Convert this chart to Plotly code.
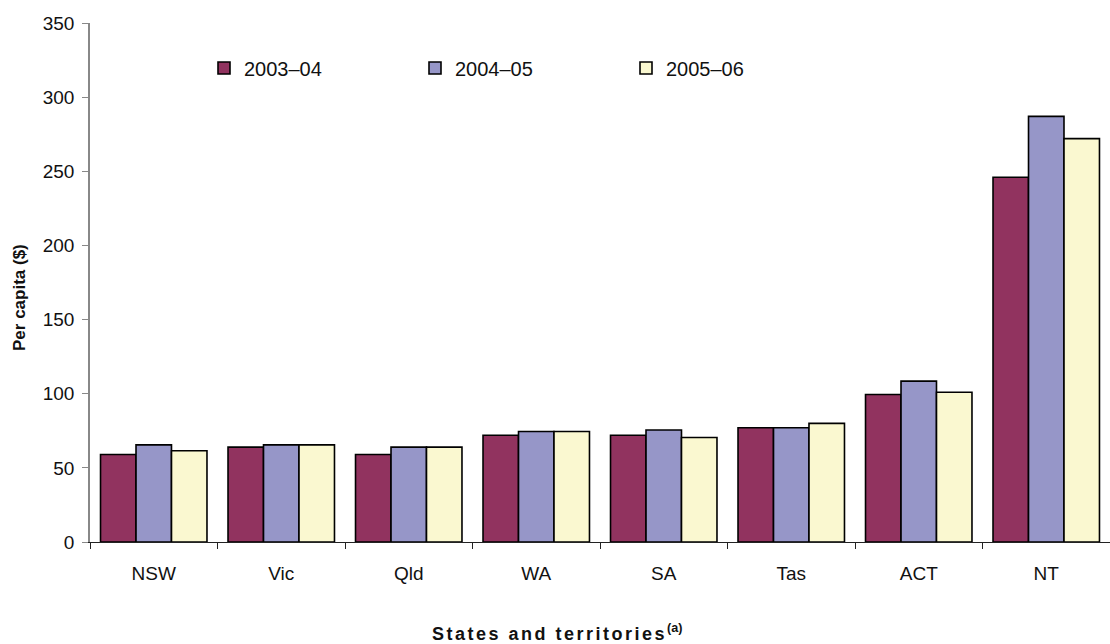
import plotly.graph_objects as go

# Per capita expenditure by state/territory, three financial years
states = ["NSW", "Vic", "Qld", "WA", "SA", "Tas", "ACT", "NT"]
years = ["2003–04", "2004–05", "2005–06"]
values_2003_04 = [59, 64, 59, 72, 72, 77, 99.5, 246]
values_2004_05 = [65.5, 65.5, 64, 74.5, 75.5, 77, 108.5, 287]
values_2005_06 = [61.5, 65.5, 64, 74.5, 70.5, 80, 101, 272]
colors = ["#91335F", "#9696C8", "#FAF8D0"]

series = [values_2003_04, values_2004_05, values_2005_06]

W, H = 1110, 644
L, R, T, B = 90, 0, 23, 102
plot_w = W - L - R
plot_h = H - T - B

fig = go.Figure()
for name, vals, col in zip(years, series, colors):
    fig.add_trace(go.Bar(
        x=states, y=vals, name=name,
        marker=dict(color=col, line=dict(color="#000000", width=1.6)),
    ))

font_family = "Liberation Sans, Arial, sans-serif"

fig.update_layout(
    width=W, height=H,
    margin=dict(l=L, r=R, t=T, b=B),
    paper_bgcolor="white", plot_bgcolor="white",
    barmode="group", bargap=0.165, bargroupgap=0,
    font=dict(family=font_family, size=19, color="#111111"),
    showlegend=True,
    legend=dict(
        orientation="h", x=(204 - L) / plot_w, y=(H - 68 - B) / plot_h,
        xanchor="left", yanchor="middle",
        entrywidth=166, entrywidthmode="pixels",
        font=dict(size=20), bgcolor="rgba(0,0,0,0)",
        traceorder="normal", itemclick=False,
    ),
    xaxis=dict(
        showline=True, linecolor="#222222", linewidth=1.2,
        ticks="outside", ticklen=6, tickcolor="#222222",
        tickson="boundaries", showgrid=False,
        tickfont=dict(size=19), ticklabelstandoff=14,
    ),
    yaxis=dict(
        range=[0, 350], dtick=50, showline=True, linecolor="#888888",
        linewidth=1.5, ticks="outside", ticklen=6, tickcolor="#888888",
        showgrid=False, zeroline=False, tickfont=dict(size=19),
        ticklabelstandoff=4,
    ),
    annotations=[
        dict(text="<b>Per capita ($)</b>", textangle=-90,
             xref="paper", yref="paper", x=(20 - L) / plot_w,
             y=(H - 298 - B) / plot_h,
             xanchor="center", yanchor="middle", showarrow=False,
             font=dict(size=17)),
        dict(text=("<span style='letter-spacing:2.5px'><b>States and territories"
                   "</b></span><sup><b>(a)</b></sup>"),
             xref="paper", yref="paper", x=(557 - L) / plot_w,
             y=-(632 - (H - B)) / plot_h,
             xanchor="center", yanchor="middle", showarrow=False,
             font=dict(size=18)),
    ],
)

fig.write_html("out.html")
